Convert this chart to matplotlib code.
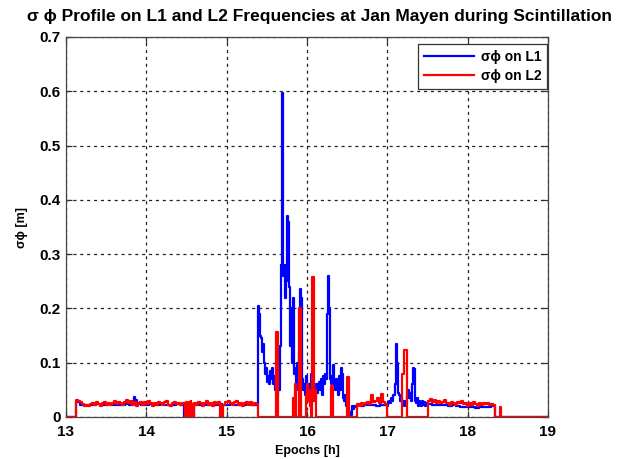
import numpy as np
import matplotlib
matplotlib.use('Agg')
import matplotlib.pyplot as plt

plt.rcParams['font.family'] = ['Liberation Sans', 'DejaVu Sans']

# ---------------- data ----------------
x_ticks = [13, 14, 15, 16, 17, 18, 19]
y_ticks = [0, 0.1, 0.2, 0.3, 0.4, 0.5, 0.6, 0.7]
y_tick_labels = ['0', '0.1', '0.2', '0.3', '0.4', '0.5', '0.6', '0.7']

# L2 (red) sigma-phi pieces
red_pre = [0.0]
red_base_a = [0.031, 0.030, 0.028, 0.024, 0.021, 0.023, 0.020, 0.024, 0.026, 0.022,
              0.027, 0.024, 0.021, 0.025, 0.028, 0.023, 0.026, 0.022, 0.025, 0.029,
              0.024, 0.027, 0.025, 0.022, 0.028, 0.031, 0.025, 0.029, 0.023, 0.027,
              0.021, 0.025, 0.028, 0.022, 0.027, 0.024, 0.029, 0.025, 0.021, 0.026,
              0.023, 0.028, 0.025, 0.022, 0.027, 0.029, 0.023, 0.021, 0.025, 0.028,
              0.024, 0.026, 0.022, 0.025]
red_dip_a = [0.026, 0.0, 0.028, 0.0, 0.021, 0.0, 0.027, 0.0, 0.030, 0.0, 0.024, 0.0]
red_base_b = [0.026, 0.022, 0.028, 0.025, 0.021, 0.026, 0.029, 0.023, 0.025, 0.020,
              0.027, 0.024, 0.027]
red_dip_b = [0.0, 0.022, 0.0]
red_base_c = [0.022, 0.028, 0.030, 0.025, 0.022, 0.027, 0.029, 0.023, 0.026, 0.021,
              0.025, 0.028, 0.023, 0.027, 0.022, 0.025, 0.024]
red_burst_a = ([0.0] * 18 + [0.157, 0.157] + [0.0] * 15 +
               [0.035, 0.0, 0.06, 0.0, 0.0, 0.0, 0.20, 0.20, 0.0, 0.0, 0.0, 0.0,
                0.0, 0.04, 0.06, 0.03, 0.05, 0.02, 0.0, 0.258, 0.258, 0.03, 0.05, 0.0] +
               [0.0] * 14 + [0.058, 0.058] + [0.0] * 14 + [0.073, 0.073] + [0.0] * 8)
red_base_d = [0.024, 0.021, 0.026, 0.023, 0.025, 0.028, 0.024, 0.040, 0.027, 0.029,
              0.035, 0.025, 0.042, 0.027, 0.024]
red_burst_b = [0.0] * 14 + [0.08, 0.08, 0.123, 0.123, 0.123] + [0.0] * 21
red_base_e = [0.030, 0.034, 0.028, 0.031, 0.026, 0.029, 0.025, 0.028, 0.031, 0.026,
              0.023, 0.028, 0.025, 0.022, 0.027, 0.026, 0.030, 0.024, 0.026, 0.021,
              0.025, 0.023, 0.027, 0.024, 0.021, 0.025, 0.023, 0.026, 0.024, 0.025,
              0.022, 0.024, 0.023]
red_tail_a = [0.0, 0.0, 0.0, 0.0, 0.0, 0.018, 0.0]
red_tail_b = [0.0]

# L1 (blue) sigma-phi pieces
blue_pre = [0.0]
blue_base_a1 = [0.028, 0.022, 0.022, 0.023, 0.022, 0.024, 0.023, 0.022, 0.024, 0.023,
                0.022, 0.023, 0.024, 0.022]
blue_peak_a = [0.030, 0.037, 0.031]
blue_base_a2 = [0.024, 0.023, 0.022, 0.024, 0.023, 0.022, 0.024, 0.023, 0.022, 0.023,
                0.024, 0.022]
blue_dip_a = [0.0]
blue_base_b = [0.023, 0.022, 0.024, 0.023, 0.022, 0.023, 0.024, 0.022, 0.023, 0.024,
               0.022, 0.023, 0.022, 0.024, 0.023, 0.022]
blue_burst_a = [0.205, 0.19, 0.15, 0.145, 0.12, 0.135, 0.10, 0.08, 0.09, 0.065,
                0.075, 0.06, 0.085, 0.07, 0.09, 0.06, 0.075, 0.05, 0.065, 0.04,
                0.07, 0.05, 0.13, 0.28, 0.597, 0.26, 0.28, 0.22, 0.25, 0.37,
                0.36, 0.24, 0.13, 0.20, 0.10, 0.22, 0.08, 0.09, 0.06, 0.10,
                0.05, 0.12, 0.235, 0.22, 0.07, 0.05, 0.06, 0.04, 0.075, 0.05,
                0.03, 0.06, 0.045, 0.08, 0.04, 0.03, 0.05, 0.035, 0.06, 0.045,
                0.05, 0.065, 0.05, 0.07, 0.04, 0.075, 0.06, 0.08, 0.07, 0.19,
                0.26, 0.20, 0.07, 0.06, 0.075, 0.095, 0.06, 0.05, 0.07, 0.06,
                0.04, 0.075, 0.05, 0.09, 0.08, 0.035, 0.03, 0.04, 0.02, 0.03,
                0.015, 0.005, 0.01, 0.003, 0.02, 0.015, 0.02, 0.018, 0.02]
blue_base_d = [0.022, 0.021, 0.022, 0.023, 0.022, 0.021, 0.022, 0.023]
blue_burst_b = [0.02, 0.025, 0.03, 0.025, 0.035, 0.03, 0.04, 0.06, 0.134, 0.10,
                0.045, 0.04, 0.03, 0.035, 0.025, 0.03, 0.02, 0.03, 0.025, 0.04,
                0.05, 0.035, 0.045, 0.03, 0.06, 0.09, 0.088, 0.03, 0.025, 0.035,
                0.02, 0.03, 0.025, 0.02, 0.03, 0.022, 0.028, 0.02, 0.025, 0.022]
blue_base_e = [0.024, 0.023, 0.022, 0.023, 0.022, 0.021, 0.022, 0.020, 0.019, 0.018,
               0.019, 0.018, 0.017, 0.019, 0.018, 0.019, 0.020]
blue_tail = [0.0]

red_segments = [
    (13.00, 13.12, red_pre), (13.12, 14.47, red_base_a), (14.47, 14.59, red_dip_a),
    (14.59, 14.92, red_base_b), (14.92, 14.96, red_dip_b), (14.96, 15.39, red_base_c),
    (15.39, 16.62, red_burst_a), (16.62, 17.00, red_base_d), (17.00, 17.51, red_burst_b),
    (17.51, 18.34, red_base_e), (18.34, 18.43, red_tail_a), (18.43, 19.00, red_tail_b),
]
blue_segments = [
    (13.00, 13.12, blue_pre), (13.12, 13.83, blue_base_a1), (13.83, 13.88, blue_peak_a),
    (13.88, 14.47, blue_base_a2), (14.47, 14.59, blue_dip_a),
    (14.59, 15.39, blue_base_b), (15.39, 16.62, blue_burst_a), (16.62, 17.00, blue_base_d),
    (17.00, 17.51, blue_burst_b), (17.51, 18.34, blue_base_e), (18.34, 19.00, blue_tail),
]


def build(segments, t_end=19.0):
    ts, vs = [], []
    for t0, t1, vals in segments:
        ts.append(np.linspace(t0, t1, len(vals), endpoint=False))
        vs.append(np.asarray(vals, dtype=float))
    t = np.concatenate(ts + [np.array([t_end])])
    v = np.concatenate(vs + [np.array([vs[-1][-1]])])
    return t, v


t_l1, v_l1 = build(blue_segments)
t_l2, v_l2 = build(red_segments)

# ---------------- figure ----------------
W, H = 619, 459
fig = plt.figure(figsize=(W / 100, H / 100), dpi=100)
ax = fig.add_axes([66 / W, 42 / H, 482 / W, 380 / H])

ax.plot(t_l1, v_l1, drawstyle='steps-post', color='#0000ff', lw=1.6,
        label='σϕ on L1', zorder=3)
ax.plot(t_l2, v_l2, drawstyle='steps-post', color='#ff0000', lw=1.6,
        label='σϕ on L2', zorder=4)

ax.set_xlim(13, 19)
ax.set_ylim(0, 0.7)
ax.set_xticks(x_ticks)
ax.set_xticklabels([str(v) for v in x_ticks])
ax.set_yticks(y_ticks)
ax.set_yticklabels(y_tick_labels)
ax.grid(True, color='#222222', linestyle=(0, (2.5, 3)), lw=0.9)
ax.set_axisbelow(True)
ax.tick_params(direction='in', length=4, width=0.9, top=True, right=True,
               labelsize=11, colors='#333333', labelcolor='black')
ax.tick_params(axis='x', pad=6)
ax.tick_params(axis='y', pad=4)
for lab in ax.get_xticklabels() + ax.get_yticklabels():
    lab.set_fontweight('bold')
for sp in ax.spines.values():
    sp.set_color('#444444')
    sp.set_linewidth(0.9)

ax.set_xlabel('Epochs [h]', fontsize=9, fontweight='bold', labelpad=4)
ax.set_ylabel('σϕ [m]', fontsize=9, fontweight='bold', labelpad=8)

fig.text(319 / W, 1 - 17 / H,
         'σ ϕ Profile on L1 and L2 Frequencies at Jan Mayen during Scintillation',
         ha='center', va='center', fontsize=12.5, fontweight='bold')

leg = ax.legend(loc='upper right', bbox_to_anchor=(1 - 1 / 482, 1 - 7 / 380),
                borderaxespad=0, fancybox=False, framealpha=1, edgecolor='#333333',
                prop={'weight': 'bold', 'size': 10}, handlelength=3.6,
                borderpad=0.4, labelspacing=0.4, handletextpad=0.5)
leg.get_frame().set_linewidth(0.9)

fig.savefig('out.png', dpi=100)
